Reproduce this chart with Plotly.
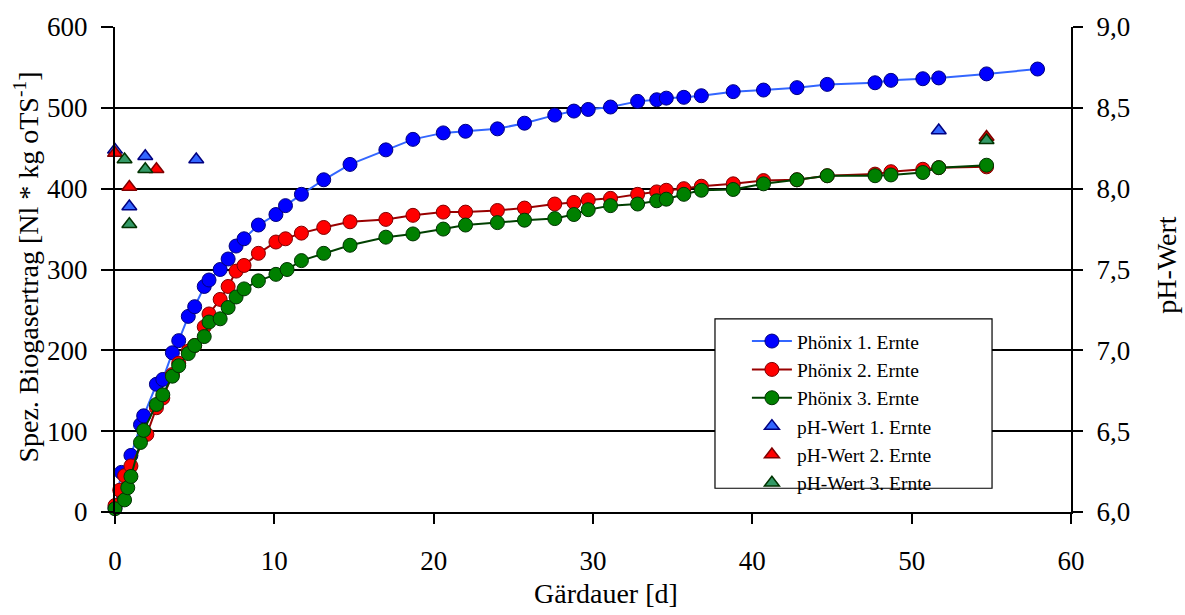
import plotly.graph_objects as go

# ---- data ----
t1 = [0, 0.4, 1.0, 1.6, 1.8, 2.6, 3.0, 3.6, 4.0, 4.6, 5.0, 5.6, 5.9, 6.6, 7.1, 7.6, 8.1, 9.0,
      10.1, 10.7, 11.7, 13.1, 14.75, 17.0, 18.7, 20.6, 22.0, 24.0, 25.7, 27.6, 28.8, 29.7, 31.1,
      32.8, 34.0, 34.6, 35.7, 36.8, 38.8, 40.7, 42.8, 44.7, 47.7, 48.7, 50.7, 51.7, 54.7, 57.9]
y1 = [5, 49, 70, 108, 119, 158, 164, 197, 212, 242, 254, 279, 287, 300, 313, 329, 338, 355,
      368, 379, 393, 411, 430, 448, 461, 469, 471, 474, 481, 491, 496, 498, 501,
      508, 510, 512, 513, 515, 520, 522, 525, 529, 531, 534, 536, 537, 542, 548]

t2 = [0, 0.3, 0.6, 1.0, 2.0, 2.6, 3.0, 3.6, 4.0, 4.6, 5.0, 5.6, 5.9, 6.6, 7.1, 7.6, 8.1, 9.0,
      10.1, 10.7, 11.7, 13.1, 14.75, 17.0, 18.7, 20.6, 22.0, 24.0, 25.7, 27.6, 28.8, 29.7, 31.1,
      32.8, 34.0, 34.6, 35.7, 36.8, 38.8, 40.7, 42.8, 44.7, 47.7, 48.7, 50.7, 51.7, 54.7]
y2 = [8, 27, 45, 57, 96, 129, 141, 170, 184, 199, 206, 229, 245, 263, 279, 298, 305, 320,
      334, 338, 345, 352, 359, 362, 367, 371, 371, 373, 376, 381, 383, 386, 388,
      393, 396, 398, 400, 403, 406, 410, 411, 416, 418, 421, 424, 426, 427]

t3 = [0, 0.6, 0.8, 1.0, 1.6, 1.8, 2.6, 3.0, 3.6, 4.0, 4.6, 5.0, 5.6, 5.9, 6.6, 7.1, 7.6, 8.1, 9.0,
      10.1, 10.8, 11.7, 13.1, 14.75, 17.0, 18.7, 20.6, 22.0, 24.0, 25.7, 27.6, 28.8, 29.7, 31.1,
      32.8, 34.0, 34.6, 35.7, 36.8, 38.8, 40.7, 42.8, 44.7, 47.7, 48.7, 50.7, 51.7, 54.7]
y3 = [4, 15, 30, 44, 86, 101, 133, 145, 168, 181, 196, 206, 217, 235, 239, 253, 266, 276, 286,
      294, 300, 311, 320, 330, 340, 344, 350, 355, 358, 361, 363, 368, 374, 379,
      381, 385, 387, 393, 398, 399, 406, 411, 416, 416, 417, 420, 426, 429]

ph1_t = [0, 0.9, 1.9, 5.1, 51.7]
ph1 = [8.24, 7.89, 8.20, 8.18, 8.36]
ph2_t = [0, 0.9, 2.6, 54.7]
ph2 = [8.22, 8.01, 8.12, 8.32]
ph3_t = [0.6, 0.9, 1.9, 54.7]
ph3 = [8.18, 7.78, 8.12, 8.30]

names = ["Phönix 1. Ernte", "Phönix 2. Ernte", "Phönix 3. Ernte",
         "pH-Wert 1. Ernte", "pH-Wert 2. Ernte", "pH-Wert 3. Ernte"]

FONT = "Liberation Serif, Times New Roman, serif"

fig = go.Figure()

line_styles = [
    (t1, y1, "#3366FF", "#0000FF", "#000080"),
    (t2, y2, "#990000", "#FF0000", "#800000"),
    (t3, y3, "#004000", "#008000", "#003300"),
]
for i, (t, y, lc, fc, oc) in enumerate(line_styles):
    fig.add_trace(go.Scatter(
        x=t, y=y, name=names[i], mode="lines+markers",
        line=dict(color=lc, width=2),
        marker=dict(symbol="circle", size=14, color=fc, line=dict(color=oc, width=1)),
        cliponaxis=False,
    ))

tri_styles = [
    (ph1_t, ph1, "#3366FF", "#000080"),
    (ph2_t, ph2, "#FF0000", "#800000"),
    (ph3_t, ph3, "#339966", "#003300"),
]
for i, (t, y, fc, oc) in enumerate(tri_styles):
    fig.add_trace(go.Scatter(
        x=t, y=y, name=names[3 + i], mode="markers", yaxis="y2",
        marker=dict(symbol="triangle-up", size=13, color=fc, line=dict(color=oc, width=1.5)),
        cliponaxis=False,
    ))

fig.update_layout(
    width=1185, height=615,
    margin=dict(l=115, r=114, t=22, b=103),
    paper_bgcolor="white", plot_bgcolor="white",
    separators=",.",
    font=dict(family=FONT, size=27, color="black"),
    showlegend=True,
    legend=dict(
        x=0.661, y=0.392, xanchor="left", yanchor="top",
        bgcolor="rgba(0,0,0,0)", borderwidth=0,
        font=dict(family=FONT, size=19.5, color="black"),
        tracegroupgap=0, itemwidth=40,
    ),
    shapes=[
        dict(type="rect", xref="paper", yref="paper",
             x0=0.6276, x1=0.9174, y0=0.049, y1=0.398,
             fillcolor="white", line=dict(color="black", width=1.2), layer="above"),
    ],
    xaxis=dict(
        range=[0, 60], tickmode="array", tickvals=[0, 10, 20, 30, 40, 50, 60],
        showgrid=False, zeroline=False,
        showline=True, linecolor="black", linewidth=2,
        ticks="outside", ticklen=10, tickwidth=1.5, tickcolor="black",
        ticklabelstandoff=14,
        tickfont=dict(family=FONT, size=27),
    ),
    yaxis=dict(
        range=[0, 600], tickmode="array", tickvals=[0, 100, 200, 300, 400, 500, 600],
        showgrid=True, gridcolor="black", gridwidth=1.5, zeroline=False,
        showline=True, linecolor="black", linewidth=2,
        ticks="outside", ticklen=12, tickwidth=1.5, tickcolor="black",
        ticklabelstandoff=8,
        tickfont=dict(family=FONT, size=27),
    ),
    yaxis2=dict(
        range=[6, 9], overlaying="y", side="right",
        tickmode="array", tickvals=[6, 6.5, 7, 7.5, 8, 8.5, 9], tickformat=".1f",
        showgrid=False, zeroline=False,
        showline=True, linecolor="black", linewidth=2,
        ticks="outside", ticklen=10, tickwidth=1.5, tickcolor="black",
        ticklabelstandoff=8,
        tickfont=dict(family=FONT, size=27),
    ),
    annotations=[
        dict(text="Gärdauer [d]", xref="paper", yref="paper", x=0.5136, y=-0.169,
             xanchor="center", yanchor="middle", showarrow=False,
             font=dict(family=FONT, size=28)),
        dict(text="Spez. Biogasertrag [Nl * kg oTS<sup>-1</sup>]", xref="paper", yref="paper",
             x=-0.092, y=0.504, textangle=-90, xanchor="center", yanchor="middle",
             showarrow=False, font=dict(family=FONT, size=28)),
        dict(text="pH-Wert", xref="paper", yref="paper", x=1.1004, y=0.51, textangle=-90,
             xanchor="center", yanchor="middle", showarrow=False,
             font=dict(family=FONT, size=28)),
    ],
)

fig.write_html("out.html", config={"displayModeBar": False},
               post_script="document.body.style.margin='0px';")
